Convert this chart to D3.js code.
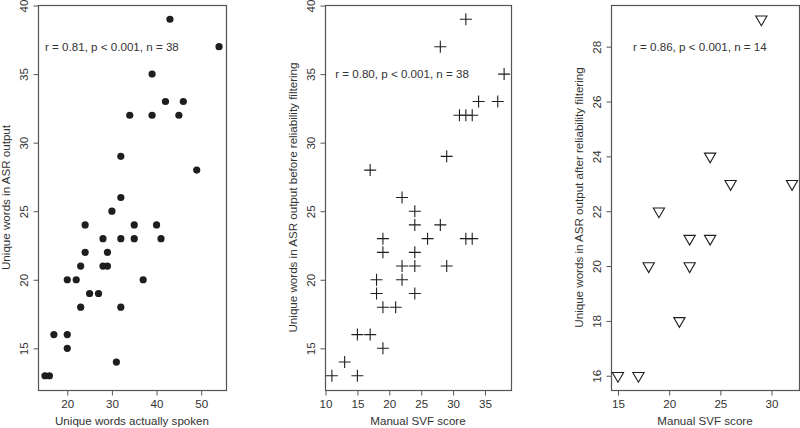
<!DOCTYPE html>
<html>
<head>
<meta charset="utf-8">
<script src="https://cdn.jsdelivr.net/npm/d3@7"></script>
<style>
  body { margin: 0; background: #fff; }
  svg { display: block; }
</style>
</head>
<body>
<div id="chart"></div>
<script>
// panel 1: unique words actually spoken vs ASR output
var spokenX = [43, 54, 39, 34, 39, 42, 45, 46, 49, 32, 32, 30, 24, 40, 35, 35, 41, 28, 32, 24, 29, 23, 28, 29, 20, 22, 37, 25, 27, 23, 32, 17, 20, 20, 31, 15, 16];
var spokenY = [39, 37, 35, 32, 32, 33, 32, 33, 28, 29, 26, 25, 24, 24, 24, 23, 23, 23, 23, 22, 22, 21, 21, 21, 20, 20, 20, 19, 19, 18, 18, 16, 16, 15, 14, 13, 13];

// panel 2: manual SVF score vs ASR output before filtering
var svfBeforeX = [32, 28, 38, 34, 37, 31, 32, 33, 29, 17, 22, 24, 24, 28, 26, 32, 33, 19, 19, 24, 22, 24, 29, 18, 22, 18, 24, 19, 21, 15, 17, 19, 13, 11, 15];
var svfBeforeY = [39, 37, 35, 33, 33, 32, 32, 32, 29, 28, 26, 25, 24, 24, 23, 23, 23, 23, 22, 22, 21, 21, 21, 20, 20, 19, 19, 18, 18, 16, 16, 15, 14, 13, 13];

// panel 3: manual SVF score vs ASR output after filtering
var svfAfterX = [29, 24, 26, 32, 19, 22, 24, 18, 22, 21, 15, 17];
var svfAfterY = [29, 24, 23, 23, 22, 21, 21, 20, 20, 18, 16, 16];

var xTicks1 = [20, 30, 40, 50];
var yTicks1 = [15, 20, 25, 30, 35, 40];
var xTicks2 = [10, 15, 20, 25, 30, 35];
var yTicks2 = [15, 20, 25, 30, 35, 40];
var xTicks3 = [15, 20, 25, 30];
var yTicks3 = [16, 18, 20, 22, 24, 26, 28];

var xTitles = ["Unique words actually spoken", "Manual SVF score", "Manual SVF score"];
var yTitles = [
  "Unique words in ASR output",
  "Unique words in ASR output before reliability filtering",
  "Unique words in ASR output after reliability filtering"
];
var statTexts = ["r = 0.81, p < 0.001, n = 38", "r = 0.80, p < 0.001, n = 38", "r = 0.86, p < 0.001, n = 14"];
var statX = [30, 22, 23];
var statY = [37, 35, 28];

var width = 800;
var height = 428;
var plotTop = 5;
var plotBottom = 390;
var fontSize = "11.6px";
var textColor = "#333";
var boxColor = "#555";

var panels = [
  { left: 38, right: 226, xs: spokenX, ys: spokenY, xTicks: xTicks1, yTicks: yTicks1, shape: "dot" },
  { left: 325, right: 511, xs: svfBeforeX, ys: svfBeforeY, xTicks: xTicks2, yTicks: yTicks2, shape: "cross" },
  { left: 611, right: 799, xs: svfAfterX, ys: svfAfterY, xTicks: xTicks3, yTicks: yTicks3, shape: "triangle" }
];

var svg = d3
  .select("#chart")
  .append("svg")
  .attr("width", width)
  .attr("height", height)
  .attr("font-family", "Liberation Sans, Arial, sans-serif");

// R style: pad range by 4% on each side
function padded(values) {
  var ext = d3.extent(values);
  var pad = (ext[1] - ext[0]) * 0.04;
  return [ext[0] - pad, ext[1] + pad];
}

panels.forEach(function (p, k) {
  var xScale = d3.scaleLinear().domain(padded(p.xs)).range([p.left, p.right]);
  var yScale = d3.scaleLinear().domain(padded(p.ys)).range([plotBottom, plotTop]);

  var points = p.xs.map(function (x, i) {
    return { x: x, y: p.ys[i] };
  });

  var xAxis = d3.axisBottom(xScale).tickValues(p.xTicks).tickSize(5).tickSizeOuter(0).tickPadding(4);
  var yAxis = d3.axisLeft(yScale).tickValues(p.yTicks).tickSize(5).tickSizeOuter(0);

  var gx = svg
    .append("g")
    .attr("transform", "translate(0," + (plotBottom + 0.5) + ")")
    .call(xAxis);
  var gy = svg
    .append("g")
    .attr("transform", "translate(" + (p.left + 0.5) + ",0)")
    .call(yAxis);

  [gx, gy].forEach(function (g) {
    g.select(".domain").remove();
    g.selectAll("line").attr("stroke", boxColor);
    g.selectAll("text")
      .attr("fill", textColor)
      .attr("font-size", fontSize)
      .attr("font-family", "Liberation Sans, Arial, sans-serif");
  });

  gy.selectAll("text")
    .attr("x", 0)
    .attr("y", -11)
    .attr("dy", 0)
    .attr("transform", "rotate(-90)")
    .attr("text-anchor", "middle");

  svg
    .append("rect")
    .attr("x", p.left + 0.5)
    .attr("y", plotTop + 0.5)
    .attr("width", p.right - p.left)
    .attr("height", plotBottom - plotTop)
    .attr("fill", "none")
    .attr("stroke", boxColor)
    .attr("stroke-width", 1.2);

  var marks = svg.append("g");
  if (p.shape === "dot") {
    marks
      .selectAll("circle")
      .data(points)
      .enter()
      .append("circle")
      .attr("cx", function (d) { return xScale(d.x); })
      .attr("cy", function (d) { return yScale(d.y); })
      .attr("r", 3.6)
      .attr("fill", "#1e1e1e");
  } else if (p.shape === "cross") {
    marks
      .selectAll("path")
      .data(points)
      .enter()
      .append("path")
      .attr("d", function (d) {
        var cx = xScale(d.x), cy = yScale(d.y), s = 6;
        return "M" + (cx - s) + "," + cy + "H" + (cx + s) + "M" + cx + "," + (cy - s) + "V" + (cy + s);
      })
      .attr("stroke", "#1e1e1e")
      .attr("stroke-width", 1.1)
      .attr("fill", "none");
  } else {
    marks
      .selectAll("path")
      .data(points)
      .enter()
      .append("path")
      .attr("d", function (d) {
        var cx = xScale(d.x), cy = yScale(d.y), r = 6.5, hw = r * 0.866;
        return "M" + (cx - hw) + "," + (cy - r / 2) + "L" + (cx + hw) + "," + (cy - r / 2) + "L" + cx + "," + (cy + r) + "Z";
      })
      .attr("stroke", "#1e1e1e")
      .attr("stroke-width", 1.1)
      .attr("fill", "none");
  }

  svg
    .append("text")
    .attr("x", xScale(statX[k]))
    .attr("y", yScale(statY[k]))
    .attr("dy", "0.35em")
    .attr("text-anchor", "middle")
    .attr("font-size", fontSize)
    .attr("fill", textColor)
    .text(statTexts[k]);

  svg
    .append("text")
    .attr("x", (p.left + p.right) / 2)
    .attr("y", 425)
    .attr("text-anchor", "middle")
    .attr("font-size", fontSize)
    .attr("fill", textColor)
    .text(xTitles[k]);

  svg
    .append("text")
    .attr("transform", "translate(" + (p.left - 28) + "," + (plotTop + plotBottom) / 2 + ") rotate(-90)")
    .attr("text-anchor", "middle")
    .attr("font-size", fontSize)
    .attr("fill", textColor)
    .text(yTitles[k]);
});
</script>
</body>
</html>
